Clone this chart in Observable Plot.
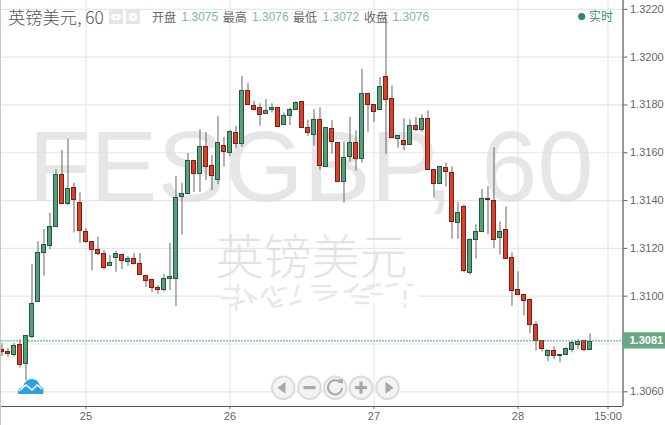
<!DOCTYPE html>
<html><head><meta charset="utf-8">
<script src="https://cdn.jsdelivr.net/npm/d3@7"></script>
<script src="https://cdn.jsdelivr.net/npm/@observablehq/plot@0.6"></script>
<style>
html,body{margin:0;padding:0;background:#fff;overflow:hidden}
#wrap{position:relative;width:665px;height:425px;font-family:"Liberation Sans",Arial,sans-serif}
#wrap svg.plot{position:absolute;left:0;top:0;display:block}
.t{position:absolute;white-space:nowrap;line-height:1}
.lab{font-family:"Noto Sans CJK SC";font-size:12px;color:#666;top:11px}
.val{font-size:12px;color:#7fb89a;top:11px}
#over{position:absolute;left:0;top:0;pointer-events:none}
#edge{position:absolute;left:0;top:0;width:1px;height:425px;background:#c8c8c8}
</style></head><body>
<div id="wrap"></div>
<script>
const opens=[1.30773,1.30767,1.30753,1.30797,1.30715,1.30828,1.30975,1.31182,1.31211,1.31289,
1.31508,1.31387,1.31454,1.31391,1.31269,1.31228,1.31194,1.31177,1.31126,1.31159,
1.31172,1.31142,1.31156,1.31136,1.31085,1.31069,1.31035,1.31025,1.31071,1.31071,
1.31414,1.31428,1.31567,1.31512,1.31625,1.31546,1.31487,1.31629,1.31600,1.31684,
1.31638,1.31859,1.31797,1.31788,1.31763,1.31780,1.31788,1.31717,1.31755,1.31780,
1.31813,1.31705,1.31675,1.31738,1.31541,1.31700,1.31642,1.31479,1.31583,1.31642,
1.31575,1.31847,1.31801,1.31780,1.31918,1.31826,1.31659,1.31650,1.31633,1.31713,
1.31696,1.31742,1.31529,1.31470,1.31537,1.31516,1.31307,1.31374,1.31098,1.31236,
1.31269,1.31408,1.31399,1.31244,1.31278,1.31161,1.31027,1.31006,1.30985,1.30880,
1.30813,1.30751,1.30772,1.30751,1.30755,1.30776,1.30797,1.30813,1.30776];
const closes=[1.30766,1.30757,1.30792,1.30713,1.30833,1.30968,1.31182,1.31215,1.31290,1.31508,
1.31387,1.31449,1.31403,1.31274,1.31228,1.31194,1.31177,1.31117,1.31140,1.31177,
1.31148,1.31156,1.31134,1.31090,1.31064,1.31035,1.31025,1.31073,1.31081,1.31412,
1.31428,1.31567,1.31512,1.31625,1.31541,1.31504,1.31642,1.31603,1.31688,1.31638,
1.31859,1.31801,1.31780,1.31757,1.31776,1.31788,1.31709,1.31755,1.31780,1.31809,
1.31705,1.31684,1.31738,1.31546,1.31705,1.31646,1.31479,1.31579,1.31642,1.31575,
1.31847,1.31801,1.31772,1.31876,1.31822,1.31663,1.31671,1.31633,1.31713,1.31696,
1.31742,1.31529,1.31470,1.31540,1.31521,1.31311,1.31349,1.31106,1.31236,1.31269,
1.31408,1.31402,1.31236,1.31269,1.31156,1.31023,1.31006,1.30981,1.30880,1.30813,
1.30780,1.30772,1.30751,1.30755,1.30780,1.30805,1.30809,1.30776,1.30809];
const highs=[1.30801,1.30781,1.30802,1.30818,1.30833,1.31133,1.31228,1.31279,1.31346,1.31529,
1.31610,1.31656,1.31473,1.31433,1.31282,1.31228,1.31246,1.31191,1.31170,1.31187,
1.31177,1.31166,1.31179,1.31179,1.31085,1.31069,1.31045,1.31090,1.31221,1.31501,
1.31472,1.31597,1.31567,1.31697,1.31685,1.31589,1.31751,1.31664,1.31693,1.31710,
1.31919,1.31889,1.31815,1.31805,1.31823,1.31805,1.31788,1.31766,1.31788,1.31813,
1.31813,1.31735,1.31781,1.31788,1.31705,1.31734,1.31642,1.31646,1.31748,1.31692,
1.31949,1.31847,1.31801,1.31914,1.32162,1.31880,1.31671,1.31742,1.31738,1.31748,
1.31759,1.31776,1.31529,1.31540,1.31558,1.31541,1.31392,1.31382,1.31240,1.31299,
1.31446,1.31459,1.31621,1.31311,1.31374,1.31182,1.31102,1.31006,1.30989,1.30893,
1.30813,1.30776,1.30788,1.30755,1.30784,1.30809,1.30818,1.30813,1.30843];
const lows=[1.30748,1.30744,1.30745,1.30699,1.30647,1.30822,1.30975,1.31084,1.31195,1.31289,
1.31387,1.31379,1.31264,1.31222,1.31222,1.31105,1.31170,1.31109,1.31126,1.31100,
1.31112,1.31124,1.31130,1.31090,1.31036,1.31015,1.31007,1.31017,1.31024,1.30957,
1.31255,1.31428,1.31434,1.31434,1.31484,1.31442,1.31467,1.31540,1.31582,1.31619,
1.31623,1.31801,1.31777,1.31711,1.31763,1.31766,1.31709,1.31717,1.31714,1.31777,
1.31705,1.31669,1.31628,1.31526,1.31541,1.31594,1.31479,1.31389,1.31561,1.31523,
1.31556,1.31685,1.31726,1.31776,1.31594,1.31663,1.31619,1.31608,1.31633,1.31688,
1.31684,1.31529,1.31410,1.31470,1.31456,1.31238,1.31238,1.31098,1.31088,1.31155,
1.31265,1.31258,1.31200,1.31172,1.31156,1.30958,1.31006,1.30918,1.30843,1.30770,
1.30766,1.30726,1.30734,1.30721,1.30751,1.30763,1.30776,1.30767,1.30776];
const gridTicks=[1.3060,1.3080,1.3100,1.3120,1.3140,1.3160,1.3180,1.3200,1.3220];
const yTicks=[1.3060,1.3100,1.3120,1.3140,1.3160,1.3180,1.3200,1.3220];
const xTicks=[14,38,62,86,101];
const xLabels=["25","26","27","28","15:00"];
const current=[1.30813];

const candles=opens.map((o,i)=>({i,o,c:closes[i],h:highs[i],l:lows[i]}));
const up=d=>d.c>=d.o;
const xMin=-0.0833,xMax=103.5,yMin=1.305385,yMax=1.32237;
const labelEnd=110.6;

const chart=Plot.plot({
  width:665,height:425,marginLeft:1,marginRight:42.5,marginTop:0,marginBottom:19,
  style:{background:"transparent",fontFamily:'"Liberation Sans",Arial,sans-serif'},
  x:{type:"linear",domain:[xMin,xMax]},
  y:{type:"linear",domain:[yMin,yMax]},
  marks:[
    Plot.ruleY(gridTicks,{stroke:"#e6e6e6",strokeWidth:1.2}),
    Plot.ruleX(xTicks,{stroke:"#e6e6e6",strokeWidth:1.2}),
    Plot.text(["FESGBP, 60"],{frameAnchor:"left",dx:27,dy:-35,fontSize:101,fill:"#dcdcdc",fillOpacity:.72,fontFamily:'"Liberation Sans"',textAnchor:"start"}),
    Plot.text(["英镑美元"],{frameAnchor:"left",dx:214,dy:55,fontSize:48,fill:"#d9d9d9",fillOpacity:.72,fontFamily:'"Noto Sans CJK SC"',fontWeight:300,textAnchor:"start"}),
    Plot.ruleX(candles,{x:"i",y1:"l",y2:"h",stroke:"#666",strokeWidth:1}),
    Plot.rect(candles,{x1:d=>d.i-1/3,x2:d=>d.i+1/3,y1:d=>Math.min(d.o,d.c),y2:d=>Math.max(d.o,d.c),
      fill:d=>up(d)?"#5b9d77":"#d9412f",stroke:d=>up(d)?"#1e5a40":"#7b1f14",strokeWidth:1,shapeRendering:"crispEdges"}),
    Plot.axisY({anchor:"right",ticks:yTicks,tickSize:4,tickPadding:3,tickFormat:d=>d.toFixed(4),fontSize:11,color:"#666",label:null}),
    Plot.axisX({anchor:"bottom",ticks:xTicks,tickSize:3,tickPadding:3,tickFormat:d=>xLabels[xTicks.indexOf(d)],fontSize:11,color:"#666",label:null}),
    Plot.ruleX([xMax],{stroke:"#555",strokeWidth:1.2}),
    Plot.ruleY([yMin],{stroke:"#555",strokeWidth:1.2}),
    Plot.ruleY(current,{x1:xMin,x2:xMax,stroke:"#3fa876",strokeOpacity:1,strokeWidth:1,strokeDasharray:"2,1"}),
    Plot.rect(current,{x1:xMax,x2:labelEnd,y1:d=>d-0.00034,y2:d=>d+0.00034,fill:"#6aa784"}),
    Plot.text(current,{x:xMax,y:d=>d,dx:6.5,text:d=>d.toFixed(4),fill:"#fff",fontSize:11,fontWeight:"bold",textAnchor:"start"})
  ]
});
const wrap=document.getElementById("wrap");
wrap.appendChild(chart);

const add=(cls,txt,left,extra)=>{const e=document.createElement("div");e.className="t "+cls;e.textContent=txt;e.style.left=left+"px";if(extra)Object.assign(e.style,extra);wrap.appendChild(e);};
add("","英镑美元, 60",8,{fontFamily:'"Noto Sans CJK SC"',fontSize:"17.3px",color:"#555",top:"8px",fontWeight:"300"});
[["开盘",152],["最高",222.7],["最低",293],["收盘",364]].forEach(([s,x])=>add("lab",s,x));
[["1.3075",181.5],["1.3076",252],["1.3072",322.5],["1.3076",392.5]].forEach(([s,x])=>add("val",s,x));
add("","实时",589,{top:"10px",fontFamily:'"Noto Sans CJK SC"',fontSize:"12px",color:"#3c8f66"});

const btn=[283.3,309.5,335.3,361,387.5];
const over=`<svg id="over" width="665" height="425" xmlns="http://www.w3.org/2000/svg">
<circle cx="581.7" cy="16.5" r="3.6" fill="#2e8b5f"/>
<rect x="109" y="10" width="14" height="14" fill="#e6e6e6"/><rect x="126" y="10" width="14" height="14" fill="#e6e6e6"/>
<ellipse cx="116" cy="17" rx="5" ry="3.2" fill="#fff"/><circle cx="116" cy="17" r="1.6" fill="#e6e6e6"/>
<circle cx="133" cy="17" r="4.2" fill="#fff"/><circle cx="133" cy="17" r="1.5" fill="#e6e6e6"/>
<path d="M18 394q-1-6 5-7 2-8 9-8 6 0 8 7 5 1 3 8z" fill="#29a3e0"/>
<path d="M19 391l7-6 6 5 5-5 5 4" fill="none" stroke="#fff" stroke-width="1.6"/>
<rect x="222" y="288" width="198" height="15" fill="#fff" stroke="none"/>
<g fill="none" stroke="#e8e8e8" stroke-width="2.6" stroke-linecap="round">
<path d="M225 289h14M222 298h13M238 285l-1 8M232 305l12 -4M252 302l-7 -12M246 292l10 7M238 296l-2 14"/>
<path d="M262 297l5 -8M272 287l3 8M278 290l8 -2M280 300l-8 5M298 286l-3 10M290 304l10 -3M268 298l6 9 8 -2"/>
<path d="M312 286h18M314 292h22M320 300l14 -5M345 292l9 -4M358 284l-8 8M352 296l16 1M362 290l10 -2M356 303h12"/>
<path d="M368 286l12 -1M372 294h10M386 286l12 -2M405 299l0 -8M405 304v3M412 285l-4 0M378 284l-8 5"/>
</g>
${btn.map(x=>`<circle cx="${x}" cy="387.7" r="11.3" fill="#f3f3f3" stroke="#dcdcdc" stroke-width="2"/>`).join("")}
<g fill="#a8a8a8">
<path d="M277.5 387.7l8 -6v12z"/><rect x="303.5" y="386" width="12" height="3.2"/>
<rect x="355" y="386" width="12" height="3.2"/><rect x="359.4" y="381.6" width="3.2" height="12"/>
<path d="M393.5 387.7l-8 -6v12z"/></g>
<path d="M340.5 383a7 7 0 1 0 1.5 5" fill="none" stroke="#a8a8a8" stroke-width="2"/><path d="M338 379l5 .5 -.5 5z" fill="#a8a8a8"/>
</svg>`;
wrap.insertAdjacentHTML("beforeend",over);
const edge=document.createElement("div");edge.id="edge";wrap.appendChild(edge);
</script>
</body></html>
